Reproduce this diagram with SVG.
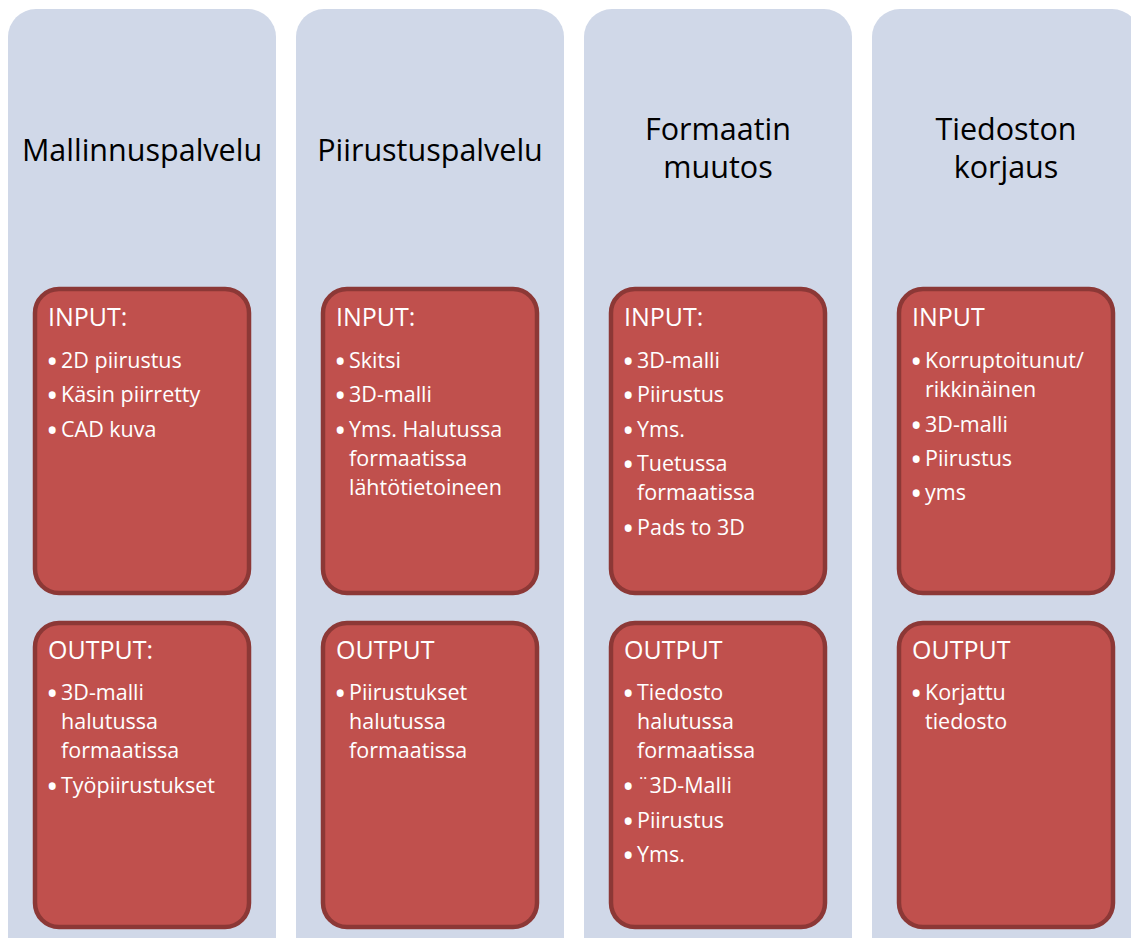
<svg xmlns="http://www.w3.org/2000/svg" width="1131" height="938" viewBox="0 0 1131 938">
  <style>
    .col { fill: #d0d8e8; }
    .box { fill: #c0504d; stroke: #8c3836; stroke-width: 4.5; }
    .title { font-family: "Open Sans", "Liberation Sans", sans-serif; font-size: 30.5px; fill: #000; text-anchor: middle; }
    .head { font-family: "Open Sans", "Liberation Sans", sans-serif; font-size: 25px; fill: #fff; }
    .item { font-family: "Open Sans", "Liberation Sans", sans-serif; font-size: 21.5px; fill: #fff; }
    .b { font-size: 33px; }
  </style>

  <!-- Column 1 -->
  <g id="col-mallinnus">
    <rect class="col" x="8" y="9" width="268" height="960" rx="28"/>
    <text class="title" x="142" y="161">Mallinnuspalvelu</text>
    <g id="mallinnus-input">
      <rect class="box" x="35" y="289" width="214" height="304" rx="24"/>
      <text class="head" x="48" y="326">INPUT:</text>
      <text class="item" x="46" y="368"><tspan class="b" dy="5">•</tspan><tspan x="61" dy="-5">2D piirustus</tspan></text>
      <text class="item" x="46" y="402"><tspan class="b" dy="5">•</tspan><tspan x="61" dy="-5">Käsin piirretty</tspan></text>
      <text class="item" x="46" y="437"><tspan class="b" dy="5">•</tspan><tspan x="61" dy="-5">CAD kuva</tspan></text>
    </g>
    <g id="mallinnus-output">
      <rect class="box" x="35" y="623" width="214" height="304" rx="24"/>
      <text class="head" x="48" y="659">OUTPUT:</text>
      <text class="item" x="46" y="700"><tspan class="b" dy="5">•</tspan><tspan x="61" dy="-5">3D-malli</tspan></text>
      <text class="item" x="61" y="729">halutussa</text>
      <text class="item" x="61" y="758">formaatissa</text>
      <text class="item" x="46" y="793"><tspan class="b" dy="5">•</tspan><tspan x="61" dy="-5">Työpiirustukset</tspan></text>
    </g>
  </g>

  <!-- Column 2 -->
  <g id="col-piirustus">
    <rect class="col" x="296" y="9" width="268" height="960" rx="28"/>
    <text class="title" x="430" y="161">Piirustuspalvelu</text>
    <g id="piirustus-input">
      <rect class="box" x="323" y="289" width="214" height="304" rx="24"/>
      <text class="head" x="336" y="326">INPUT:</text>
      <text class="item" x="334" y="368"><tspan class="b" dy="5">•</tspan><tspan x="349" dy="-5">Skitsi</tspan></text>
      <text class="item" x="334" y="402"><tspan class="b" dy="5">•</tspan><tspan x="349" dy="-5">3D-malli</tspan></text>
      <text class="item" x="334" y="437"><tspan class="b" dy="5">•</tspan><tspan x="349" dy="-5">Yms. Halutussa</tspan></text>
      <text class="item" x="349" y="466">formaatissa</text>
      <text class="item" x="349" y="495">lähtötietoineen</text>
    </g>
    <g id="piirustus-output">
      <rect class="box" x="323" y="623" width="214" height="304" rx="24"/>
      <text class="head" x="336" y="659">OUTPUT</text>
      <text class="item" x="334" y="700"><tspan class="b" dy="5">•</tspan><tspan x="349" dy="-5">Piirustukset</tspan></text>
      <text class="item" x="349" y="729">halutussa</text>
      <text class="item" x="349" y="758">formaatissa</text>
    </g>
  </g>

  <!-- Column 3 -->
  <g id="col-formaatti">
    <rect class="col" x="584" y="9" width="268" height="960" rx="28"/>
    <text class="title" x="718" y="140">Formaatin</text>
    <text class="title" x="718" y="178">muutos</text>
    <g id="formaatti-input">
      <rect class="box" x="611" y="289" width="214" height="304" rx="24"/>
      <text class="head" x="624" y="326">INPUT:</text>
      <text class="item" x="622" y="368"><tspan class="b" dy="5">•</tspan><tspan x="637" dy="-5">3D-malli</tspan></text>
      <text class="item" x="622" y="402"><tspan class="b" dy="5">•</tspan><tspan x="637" dy="-5">Piirustus</tspan></text>
      <text class="item" x="622" y="437"><tspan class="b" dy="5">•</tspan><tspan x="637" dy="-5">Yms.</tspan></text>
      <text class="item" x="622" y="471"><tspan class="b" dy="5">•</tspan><tspan x="637" dy="-5">Tuetussa</tspan></text>
      <text class="item" x="637" y="500">formaatissa</text>
      <text class="item" x="622" y="535"><tspan class="b" dy="5">•</tspan><tspan x="637" dy="-5">Pads to 3D</tspan></text>
    </g>
    <g id="formaatti-output">
      <rect class="box" x="611" y="623" width="214" height="304" rx="24"/>
      <text class="head" x="624" y="659">OUTPUT</text>
      <text class="item" x="622" y="700"><tspan class="b" dy="5">•</tspan><tspan x="637" dy="-5">Tiedosto</tspan></text>
      <text class="item" x="637" y="729">halutussa</text>
      <text class="item" x="637" y="758">formaatissa</text>
      <text class="item" x="622" y="793"><tspan class="b" dy="5">•</tspan><tspan x="637" dy="-5">¨3D-Malli</tspan></text>
      <text class="item" x="622" y="828"><tspan class="b" dy="5">•</tspan><tspan x="637" dy="-5">Piirustus</tspan></text>
      <text class="item" x="622" y="862"><tspan class="b" dy="5">•</tspan><tspan x="637" dy="-5">Yms.</tspan></text>
    </g>
  </g>

  <!-- Column 4 -->
  <g id="col-korjaus">
    <rect class="col" x="872" y="9" width="268" height="960" rx="28"/>
    <text class="title" x="1006" y="140">Tiedoston</text>
    <text class="title" x="1006" y="178">korjaus</text>
    <g id="korjaus-input">
      <rect class="box" x="899" y="289" width="214" height="304" rx="24"/>
      <text class="head" x="912" y="326">INPUT</text>
      <text class="item" x="910" y="368"><tspan class="b" dy="5">•</tspan><tspan x="925" dy="-5">Korruptoitunut/</tspan></text>
      <text class="item" x="925" y="397">rikkinäinen</text>
      <text class="item" x="910" y="432"><tspan class="b" dy="5">•</tspan><tspan x="925" dy="-5">3D-malli</tspan></text>
      <text class="item" x="910" y="466"><tspan class="b" dy="5">•</tspan><tspan x="925" dy="-5">Piirustus</tspan></text>
      <text class="item" x="910" y="500"><tspan class="b" dy="5">•</tspan><tspan x="925" dy="-5">yms</tspan></text>
    </g>
    <g id="korjaus-output">
      <rect class="box" x="899" y="623" width="214" height="304" rx="24"/>
      <text class="head" x="912" y="659">OUTPUT</text>
      <text class="item" x="910" y="700"><tspan class="b" dy="5">•</tspan><tspan x="925" dy="-5">Korjattu</tspan></text>
      <text class="item" x="925" y="729">tiedosto</text>
    </g>
  </g>

  <!-- no connectors in this layout -->
  <g id="connectors"/>
</svg>
